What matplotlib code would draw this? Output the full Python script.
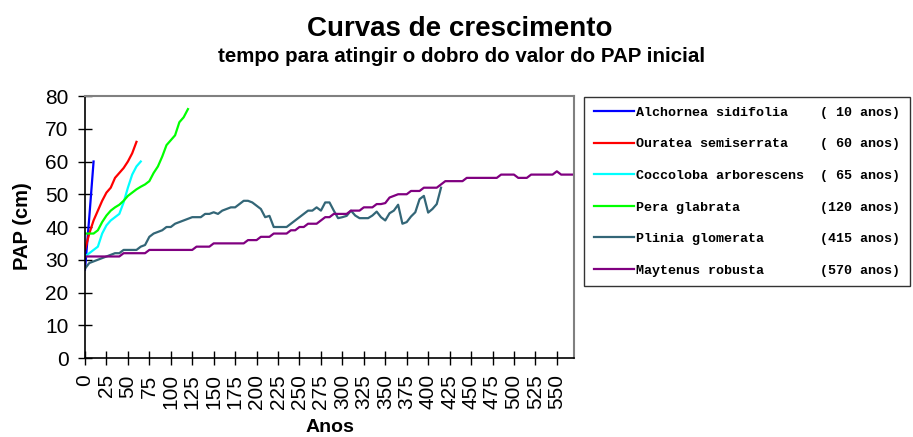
import matplotlib
matplotlib.use("Agg")
import matplotlib.pyplot as plt
import numpy as np

plt.rcParams['font.family'] = ['Liberation Sans', 'DejaVu Sans']

# ---- data (PAP in cm, sampled every 5 years) ----
years_step = 5

alchornea = [27, 43, 60]
ouratea = [33, 38, 42, 45, 48, 50.5, 52, 55, 56.5, 58, 60, 62.5, 66]
coccoloba = [31, 32, 33, 34, 38, 40.5, 42, 43, 44, 47.5, 52, 56, 58.5, 60]
pera = [38, 38, 38, 39, 41.5, 43.5, 45, 46, 46.8, 48, 49.5, 50.5, 51.5,
        52.3, 53, 54, 56.5, 58.5, 61.5, 65, 66.5, 68, 72, 73.5, 76]
plinia = [27.3, 29, 29.5, 30, 30.5, 31, 31.5, 32, 32, 33, 33, 33, 33,
          34, 34.5, 37, 38, 38.5, 39, 40, 40, 41, 41.5, 42, 42.5, 43,
          43, 43, 44, 44, 44.5, 44, 45, 45.5, 46, 46, 47, 48, 48, 47.5,
          46.5, 45.5, 43, 43.4, 40, 40, 40, 40, 41, 42, 43, 44, 45, 45,
          46, 45, 47.5, 47.5, 45, 42.7, 43, 43.4, 45, 43.5, 42.7, 42.7,
          42.7, 43.5, 44.7, 43, 42, 44.2, 45, 46.8, 41, 41.5, 43.2, 44.5,
          48.5, 49.5, 44.4, 45.5, 47, 52]
maytenus = [31, 31, 31, 31, 31, 31, 31, 31, 31, 32, 32, 32, 32, 32, 32,
            33, 33, 33, 33, 33, 33, 33, 33, 33, 33, 33, 34, 34, 34, 34,
            35, 35, 35, 35, 35, 35, 35, 35, 36, 36, 36, 37, 37, 37, 38,
            38, 38, 38, 39, 39, 40, 40, 41, 41, 41, 42, 43, 43, 44, 44,
            44, 44, 45, 45, 45, 46, 46, 46, 47, 47, 47.3, 49, 49.5, 50, 50,
            50, 51, 51, 51, 52, 52, 52, 52, 53, 54, 54, 54, 54, 54, 55,
            55, 55, 55, 55, 55, 55, 55, 56, 56, 56, 56, 55, 55, 55, 56,
            56, 56, 56, 56, 56, 57, 56, 56, 56, 56]

names = ["Alchornea sidifolia", "Ouratea semiserrata", "Coccoloba arborescens",
         "Pera glabrata", "Plinia glomerata", "Maytenus robusta"]
durations = [10, 60, 65, 120, 415, 570]
series = [alchornea, ouratea, coccoloba, pera, plinia, maytenus]
colors = ["#0000FF", "#FF0000", "#00FFFF", "#00FF00", "#336677", "#800080"]

x_ticks = list(range(0, 551, 25))
y_ticks = list(range(0, 81, 10))

fig = plt.figure(figsize=(9.13, 4.37), dpi=100)
W, H = 913, 437
ax = fig.add_axes([85 / W, 1 - 358 / H, (574 - 85) / W, (358 - 96) / H])

for name, dur, vals, c in zip(names, durations, series, colors):
    x = np.arange(len(vals)) * years_step
    label = f"{name:<23s}({dur:>3d} anos)"
    ax.plot(x, vals, color=c, lw=1.6, label=label, solid_joinstyle='round')

ax.set_xlim(0, 570)
ax.set_ylim(0, 80)
ax.set_xticks(x_ticks)
ax.set_xticklabels([str(t) for t in x_ticks], rotation=90)
ax.set_yticks(y_ticks)
ax.tick_params(axis='both', direction='inout', length=9.5, width=1,
               labelsize=15, colors='black', pad=7)
for s in ['left', 'bottom']:
    ax.spines[s].set_color('black')
    ax.spines[s].set_linewidth(1.2)
for s in ['top', 'right']:
    ax.spines[s].set_color('#808080')
    ax.spines[s].set_linewidth(1.5)

ax.set_xlabel("Anos", fontsize=14, fontweight='bold')
ax.xaxis.set_label_coords(0.5, (358 - 427) / 262)
ax.xaxis.label.set_va('center')
ax.set_ylabel("PAP (cm)", fontsize=14.5, fontweight='bold')
ax.yaxis.set_label_coords((22 - 85) / 489, (358 - 226) / 262)
ax.yaxis.label.set_va('center')

fig.text(460 / W, 1 - 29 / H, "Curvas de crescimento", ha='center', va='center',
         fontsize=20, fontweight='bold')
fig.text(462 / W, 1 - 57 / H, "tempo para atingir o dobro do valor do PAP inicial",
         ha='center', va='center', fontsize=14.8, fontweight='bold')

leg = ax.legend(loc='upper left', bbox_to_anchor=(584 / W, 1 - 97 / H),
                bbox_transform=fig.transFigure,
                prop={'family': 'Liberation Mono', 'weight': 'bold', 'size': 9.6},
                frameon=True, fancybox=False, edgecolor='black',
                handlelength=3.0, handletextpad=0.2, labelspacing=1.44,
                borderpad=0.72, borderaxespad=0)
leg.get_frame().set_linewidth(1.0)

fig.savefig("out.png", dpi=100)
